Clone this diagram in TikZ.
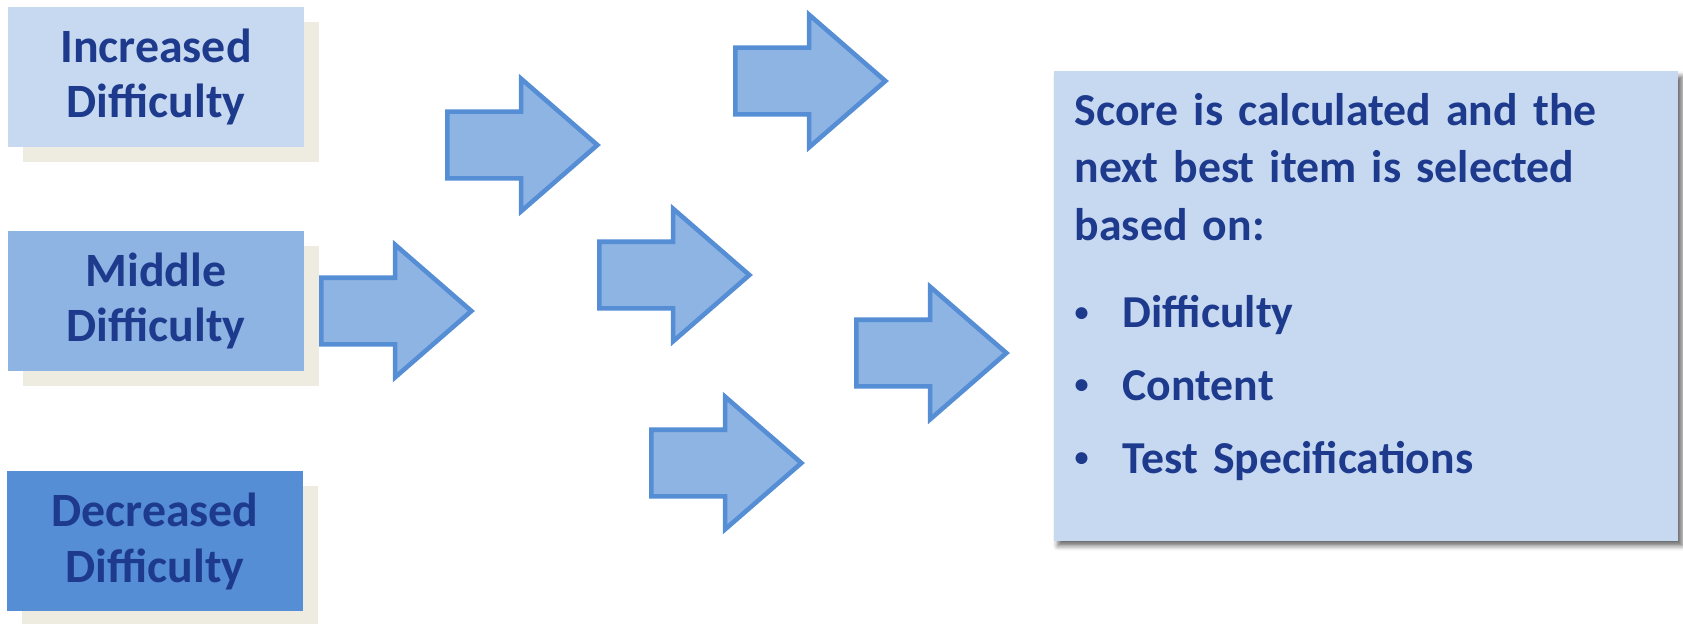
\documentclass[tikz,border=0pt]{standalone}
\usepackage{fontspec}
\setmainfont{Carlito}
\usepackage{xcolor}
\usetikzlibrary{shapes.arrows,shadows,shadows.blur}

\definecolor{lightblue}{HTML}{C6D9F1}
\definecolor{midblue}{HTML}{8EB4E3}
\definecolor{darkblue}{HTML}{558ED5}
\definecolor{navytext}{HTML}{1E3A8C}
\definecolor{beigeshadow}{HTML}{EEECE1}

\newcommand{\smallbullet}{\makebox[0.48cm][l]{\raisebox{1.8pt}{\fontsize{8}{8}\selectfont\textbullet}}}

\begin{document}
\begin{tikzpicture}[x=0.01cm, y=-0.01cm]
    % Define styles
    \tikzstyle{level} = [rectangle, minimum width=2.95cm, minimum height=1.4cm, inner sep=0pt, align=center, text=navytext, font=\fontsize{13.6}{15.9}\selectfont\bfseries, general shadow={fill=beigeshadow, shadow xshift=0.15cm, shadow yshift=-0.15cm}]
    \tikzstyle{bluearrow} = [single arrow, anchor=tail, draw=darkblue, fill=midblue, line width=1.3pt, minimum height=1.5cm, inner xsep=0pt, inner ysep=0.31cm, single arrow head extend=0.33cm, single arrow tip angle=82]
    \tikzstyle{result} = [rectangle, fill=lightblue, minimum width=6.24cm, minimum height=4.69cm, inner sep=0pt, blur shadow={shadow xshift=0.04cm, shadow yshift=-0.05cm, shadow blur radius=0.05cm, shadow opacity=60}]
    \tikzstyle{resulttext} = [anchor=base west, inner sep=0pt, text width=6cm, align=left, text=navytext, font=\fontsize{13}{16.44}\selectfont\bfseries]

    \useasboundingbox (0,0) rectangle (1683,623);

    % Difficulty levels - left column
    \node (incr) [level, fill=lightblue] at (156,77) {Increased\\Difficulty};
    \node (mid) [level, fill=midblue] at (156,301) {Middle\\Difficulty};
    \node (decr) [level, fill=darkblue] at (155,541) {Decreased\\Difficulty};

    % Arrows in between (placed by their tails)
    \node (arrA) [bluearrow] at (445,145) {};
    \node (arrB) [bluearrow] at (733,81) {};
    \node (arrC) [bluearrow] at (319,311) {};
    \node (arrD) [bluearrow] at (597,275) {};
    \node (arrE) [bluearrow] at (649,463) {};
    \node (arrF) [bluearrow] at (854,353) {};

    % Result box on the right
    \node (score) [result] at (1366,306) {};
    \node (scoretext) [resulttext] at (1074,125) {Score is calculated and the\\
        next best item is selected\\
        based on:\\[0.29cm]
        \smallbullet Difficulty\\[0.15cm]
        \smallbullet Content\\[0.15cm]
        \smallbullet Test Specifications};
\end{tikzpicture}
\end{document}
